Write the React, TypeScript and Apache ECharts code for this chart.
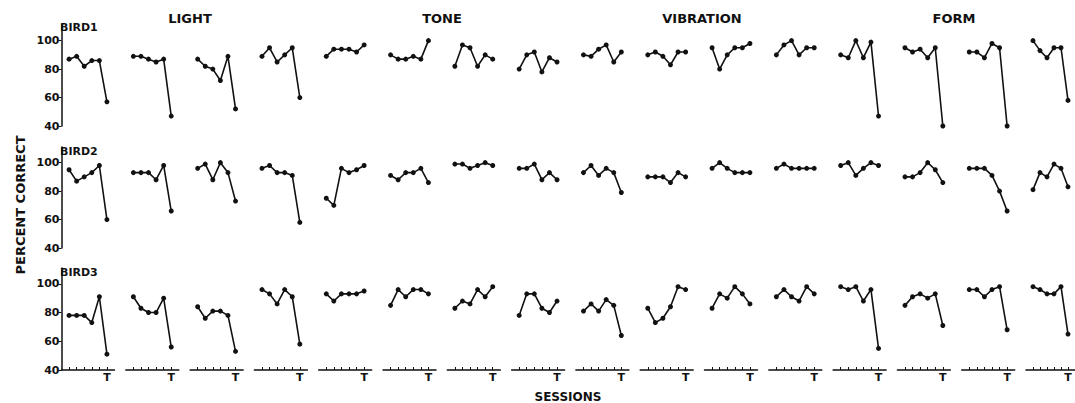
import React, { useEffect, useRef } from "react";
import * as echarts from "echarts";

const modalities = ["LIGHT", "TONE", "VIBRATION", "FORM"];
const modalityCenters = [190, 442, 702, 954];
const birds = ["BIRD1", "BIRD2", "BIRD3"];
const sessionLabels = ["1", "2", "3", "4", "5", "T"];
const yTicks = [40, 60, 80, 100];

const bird1Light = [[87, 89, 82, 86, 86, 57], [89, 89, 87, 85, 87, 47], [87, 82, 80, 72, 89, 52], [89, 95, 85, 90, 95, 60]];
const bird1Tone = [[89, 94, 94, 94, 92, 97], [90, 87, 87, 89, 87, 100], [82, 97, 95, 82, 90, 87], [80, 90, 92, 78, 88, 85]];
const bird1Vibration = [[90, 89, 94, 97, 85, 92], [90, 92, 89, 83, 92, 92], [95, 80, 90, 95, 95, 98], [90, 97, 100, 90, 95, 95]];
const bird1Form = [[90, 88, 100, 88, 99, 47], [95, 92, 94, 88, 95, 40], [92, 92, 88, 98, 95, 40], [100, 93, 88, 95, 95, 58]];

const bird2Light = [[95, 87, 90, 93, 98, 60], [93, 93, 93, 88, 98, 66], [96, 99, 88, 100, 93, 73], [96, 98, 93, 93, 91, 58]];
const bird2Tone = [[75, 70, 96, 93, 95, 98], [91, 88, 93, 93, 96, 86], [99, 99, 96, 98, 100, 98], [96, 96, 99, 88, 93, 88]];
const bird2Vibration = [[93, 98, 91, 96, 93, 79], [90, 90, 90, 86, 93, 90], [96, 100, 96, 93, 93, 93], [96, 99, 96, 96, 96, 96]];
const bird2Form = [[98, 100, 91, 96, 100, 98], [90, 90, 93, 100, 95, 86], [96, 96, 96, 91, 80, 66], [81, 93, 90, 99, 96, 83]];

const bird3Light = [[78, 78, 78, 73, 91, 51], [91, 83, 80, 80, 90, 56], [84, 76, 81, 81, 78, 53], [96, 93, 86, 96, 91, 58]];
const bird3Tone = [[93, 88, 93, 93, 93, 95], [85, 96, 91, 96, 96, 93], [83, 88, 86, 96, 91, 98], [78, 93, 93, 83, 80, 88]];
const bird3Vibration = [[81, 86, 81, 89, 85, 64], [83, 73, 76, 84, 98, 96], [83, 93, 90, 98, 93, 86], [91, 96, 91, 88, 98, 93]];
const bird3Form = [[98, 96, 98, 88, 96, 55], [85, 91, 93, 90, 93, 71], [96, 96, 91, 96, 98, 68], [98, 96, 93, 93, 98, 65]];

const allData = [
  [bird1Light, bird1Tone, bird1Vibration, bird1Form],
  [bird2Light, bird2Tone, bird2Vibration, bird2Form],
  [bird3Light, bird3Tone, bird3Vibration, bird3Form],
];

const FONT = "DejaVu Sans";
const INK = "#111";

export default function App() {
  const ref = useRef<HTMLDivElement>(null);
  useEffect(() => {
    if (!ref.current) return;
    const chart = echarts.init(ref.current, undefined, { renderer: "svg" });
    const rowTops = [25, 147, 268];
    const rowHeights = [101, 101, 102];
    const grids: any[] = [];
    const xAxes: any[] = [];
    const yAxes: any[] = [];
    const series: any[] = [];
    for (let r = 0; r < 3; r++) {
      for (let m = 0; m < 4; m++) {
        for (let p = 0; p < 4; p++) {
          const k = m * 4 + p;
          const idx = grids.length;
          grids.push({ left: 61.5 + 64.3 * k, top: rowTops[r], width: 53, height: rowHeights[r] });
          xAxes.push({
            gridIndex: idx,
            type: "value",
            min: 0,
            max: 7,
            interval: 1,
            show: r === 2,
            axisLine: { show: true, onZero: false, lineStyle: { color: INK, width: 1.5 } },
            axisTick: { show: true, inside: true, length: 3, customValues: [1, 2, 3, 4, 5, 6], lineStyle: { color: INK, width: 1 } },
            axisLabel: {
              show: true,
              customValues: [6],
              formatter: (v: number) => (v === 6 ? sessionLabels[5] : ""),
              fontFamily: FONT,
              fontWeight: "bold",
              fontSize: 11,
              color: INK,
              margin: 2,
            },
            splitLine: { show: false },
          });
          yAxes.push({
            gridIndex: idx,
            type: "value",
            min: 40,
            max: 111,
            interval: 20,
            show: k === 0,
            axisLine: { show: true, lineStyle: { color: INK, width: 1.5 } },
            axisTick: { show: true, length: 3, customValues: yTicks, lineStyle: { color: INK, width: 1 } },
            axisLabel: {
              customValues: yTicks,
              formatter: (v: number) => (v <= 100 ? String(v) : ""),
              fontFamily: FONT,
              fontWeight: "bold",
              fontSize: 11,
              color: INK,
              margin: 2,
            },
            splitLine: { show: false },
          });
          series.push({
            type: "line",
            xAxisIndex: idx,
            yAxisIndex: idx,
            data: allData[r][m][p].map((v, i) => [i + 1, v]),
            symbol: "circle",
            symbolSize: 5,
            showSymbol: true,
            lineStyle: { color: INK, width: 1.6 },
            itemStyle: { color: INK },
            silent: true,
          });
        }
      }
    }
    const birdTops = [22, 146, 267];
    const graphic: any[] = [];
    modalities.forEach((name, i) => {
      graphic.push({
        type: "text",
        x: modalityCenters[i],
        y: 18,
        style: { text: name, fontFamily: FONT, fontWeight: "bold", fontSize: 13, fill: INK, align: "center", verticalAlign: "middle" },
      });
    });
    birds.forEach((name, i) => {
      graphic.push({
        type: "text",
        x: 60,
        y: birdTops[i],
        style: { text: name, fontFamily: FONT, fontWeight: "bold", fontSize: 11, fill: INK, align: "left", verticalAlign: "top" },
      });
    });
    graphic.push({
      type: "text",
      x: 20,
      y: 205,
      rotation: Math.PI / 2,
      style: { text: "PERCENT CORRECT", fontFamily: FONT, fontWeight: "bold", fontSize: 13, fill: INK, align: "center", verticalAlign: "middle" },
    });
    graphic.push({
      type: "text",
      x: 568,
      y: 397,
      style: { text: "SESSIONS", fontFamily: FONT, fontWeight: "bold", fontSize: 12, fill: INK, align: "center", verticalAlign: "middle" },
    });
    chart.setOption({
      animation: false,
      backgroundColor: "#fff",
      grid: grids,
      xAxis: xAxes,
      yAxis: yAxes,
      series,
      graphic,
    });
    return () => chart.dispose();
  }, []);
  return (
    <div
      ref={ref}
      style={{ position: "fixed", left: 0, top: 0, width: 1075, height: 403, background: "#fff" }}
    />
  );
}
